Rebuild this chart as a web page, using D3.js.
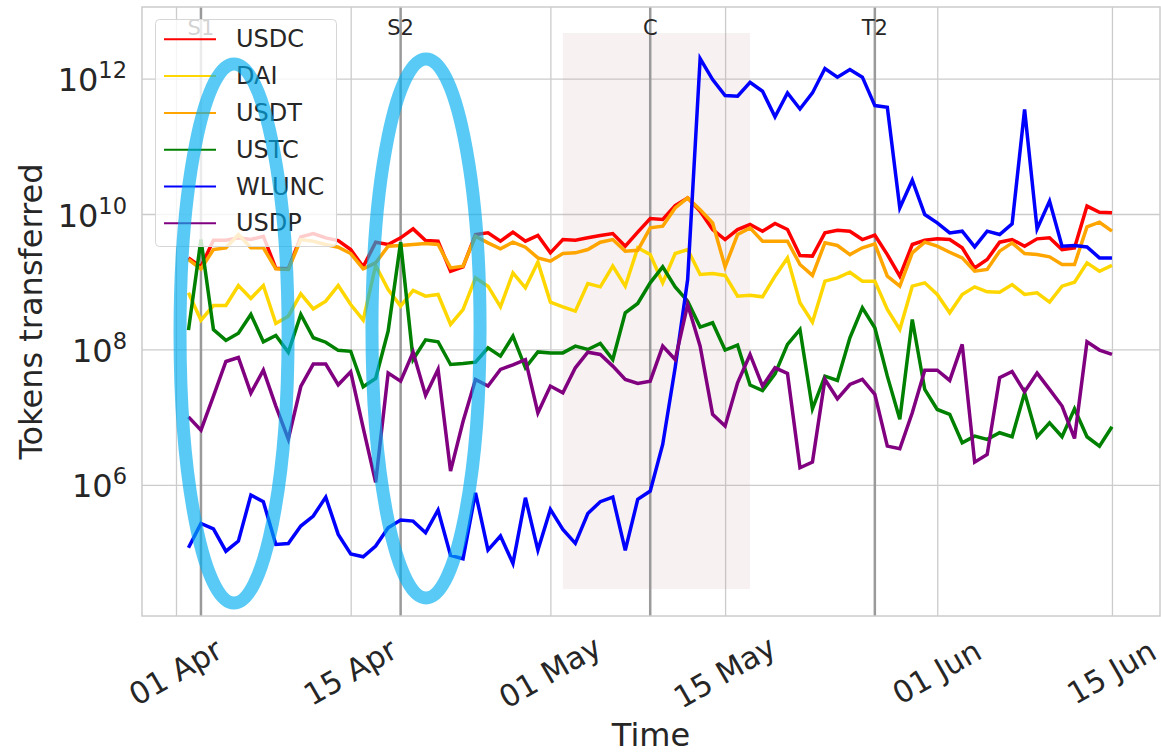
<!DOCTYPE html>
<html lang="en">
<head>
<meta charset="utf-8">
<title>Tokens transferred</title>
<script src="https://d3js.org/d3.v7.min.js"></script>
<style>
  body { margin: 0; background: #fff; }
  svg text { font-family: "DejaVu Sans", sans-serif; fill: #262626; }
</style>
</head>
<body>
<script>
// one value per day, 2 Apr - 15 Jun 2022
const firstDay = "2022-04-02";

const usdc = [2.25e9,1.66e9,4.1e9,4.1e9,4.45e9,4.2e9,4.7e9,1.58e9,1.55e9,4.6e9,
  5.15e9,4.45e9,4.06e9,2.99e9,1.66e9,3.84e9,3.55e9,4.45e9,6.04e9,4.06e9,
  3.97e9,1.43e9,1.66e9,4.98e9,5.27e9,3.97e9,5.4e9,3.97e9,4.82e9,2.67e9,
  4.2e9,4.1e9,4.45e9,4.82e9,5.15e9,3.35e9,5.4e9,8.6e9,8.3e9,1.33e10,
  1.73e10,1.1e10,5.9e9,4.2e9,5.9e9,7.0e9,5.58e9,7.24e9,5.9e9,2.44e9,
  2.39e9,5.27e9,5.77e9,5.58e9,4.2e9,4.87e9,2.52e9,1.21e9,3.55e9,4.1e9,
  4.3e9,4.2e9,3.17e9,1.6e9,2.13e9,3.84e9,4.2e9,3.35e9,4.3e9,4.45e9,
  2.99e9,3.17e9,1.31e10,1.06e10,1.04e10];

const dai = [6.86e8,2.71e8,4.46e8,4.46e8,8.81e8,5.66e8,8.81e8,2.42e8,3.1e8,6.63e8,
  3.98e8,5.17e8,8.81e8,4.61e8,2.71e8,1.74e9,7.69e8,4.36e8,7.43e8,6.12e8,
  6.49e8,2.34e8,3.89e8,1.14e9,8.6e8,4.26e8,1.35e9,8.13e8,1.95e9,5.0e8,
  4.26e8,3.68e8,9.42e8,8.41e8,1.7e9,8.6e8,3.17e9,2.52e9,9.64e8,2.61e9,
  2.99e9,1.28e9,1.32e9,1.24e9,6.12e8,6.34e8,5.99e8,1.21e9,2.25e9,4.89e8,
  2.53e8,1.02e9,1.14e9,1.38e9,1.02e9,1.02e9,3.89e8,1.97e8,8.6e8,9.64e8,
  6.49e8,3.48e8,6.49e8,8.41e8,7.1e8,7.0e8,9.1e8,6.49e8,6.86e8,5.0e8,
  8.6e8,9.86e8,1.9e9,1.43e9,1.74e9];

const usdt = [2.13e9,1.55e9,2.99e9,3.17e9,4.98e9,3.17e9,3.17e9,1.55e9,1.52e9,4.2e9,
  3.97e9,3.55e9,3.24e9,2.61e9,1.55e9,1.9e9,3.35e9,3.43e9,3.55e9,3.67e9,
  3.55e9,1.6e9,1.7e9,4.7e9,3.75e9,3.06e9,3.84e9,3.24e9,2.25e9,2.01e9,
  2.61e9,2.67e9,2.99e9,3.84e9,4.2e9,2.83e9,2.92e9,6.25e9,6.61e9,1.23e10,
  1.73e10,1.16e10,7.41e9,1.66e9,4.98e9,6.25e9,3.97e9,3.97e9,3.97e9,1.8e9,
  1.24e9,3.75e9,3.43e9,2.52e9,3.17e9,3.63e9,1.21e9,8.6e8,2.67e9,3.84e9,
  3.35e9,2.73e9,2.25e9,1.43e9,1.52e9,2.83e9,3.75e9,2.61e9,2.52e9,2.33e9,
  1.8e9,1.8e9,6.47e9,7.57e9,5.58e9];

const ustc = [1.93e8,4.2e9,1.97e8,1.36e8,1.74e8,3.29e8,1.3e8,1.61e8,9.1e7,3.29e8,
  1.49e8,1.28e8,9.7e7,9.4e7,2.81e7,3.73e7,1.87e8,3.84e9,7.1e7,1.39e8,
  1.3e8,6.0e7,6.21e7,6.5e7,1.06e8,7.98e7,1.57e8,5.36e7,9.2e7,8.9e7,
  8.9e7,1.12e8,1.0e8,1.23e8,7.1e7,3.48e8,4.77e8,9.64e8,1.66e9,8.41e8,
  5.17e8,2.14e8,2.48e8,9.8e7,1.16e8,2.98e7,2.48e7,4.37e7,1.19e8,1.97e8,
  1.33e7,4.04e7,3.49e7,1.49e8,4.12e8,2.09e8,4.04e7,9.3e6,2.77e8,2.57e7,
  1.3e7,1.1e7,4.19e6,5.26e6,4.7e6,5.89e6,5.14e6,2.29e7,5.14e6,8.27e6,
  5.14e6,1.33e7,5.14e6,3.74e6,7.22e6];

const wlunc = [1.18e5,2.7e5,2.25e5,1.05e5,1.48e5,7.08e5,5.65e5,1.32e5,1.36e5,2.47e5,
  3.47e5,6.61e5,1.86e5,9.6e4,8.7e4,1.25e5,2.33e5,3.03e5,2.92e5,1.97e5,
  4.26e5,9.1e4,8.13e4,7.66e5,1.09e5,1.76e5,6.93e4,6.47e5,1.09e5,4.35e5,
  2.2e5,1.37e5,3.79e5,5.65e5,6.61e5,1.08e5,6.11e5,8.11e5,3.96e6,5.42e7,
  1.08e9,1.97e12,9.66e11,5.61e11,5.48e11,8.83e11,6.5e11,2.72e11,6.14e11,3.56e11,
  6.14e11,1.41e12,1.05e12,1.36e12,1.05e12,3.99e11,3.78e11,1.23e10,3.16e10,9.84e9,
  7.41e9,5.27e9,5.58e9,3.27e9,5.58e9,4.98e9,7.16e9,3.49e11,6.04e9,1.55e10,
  3.35e9,3.43e9,3.27e9,2.25e9,2.25e9];

const usdp = [1.01e7,6.44e6,2.05e7,6.65e7,7.62e7,2.27e7,4.95e7,1.46e7,4.75e6,2.84e7,
  6.08e7,6.08e7,3.01e7,4.68e7,6.98e6,1.09e6,4.48e7,3.41e7,9.1e7,2.1e7,
  5.07e7,1.6e6,8.65e6,3.61e7,2.88e7,5.07e7,5.94e7,7.1e7,1.16e7,2.88e7,
  2.29e7,5.36e7,9.1e7,8.44e7,5.68e7,3.61e7,3.15e7,3.41e7,1.12e8,7.1e7,
  4.61e8,1.12e8,1.1e7,7.38e6,3.22e7,8.44e7,2.88e7,5.36e7,4.42e7,1.79e6,
  2.17e6,3.61e7,1.87e7,3.04e7,3.61e7,2.17e7,3.74e6,3.42e6,1.16e7,4.95e7,
  4.95e7,3.49e7,1.19e8,2.17e6,2.82e6,3.82e7,4.73e7,2.37e7,4.48e7,2.57e7,
  1.46e7,4.86e6,1.3e8,9.8e7,8.44e7];

const seriesNames = ["USDC", "DAI", "USDT", "USTC", "WLUNC", "USDP"];
const seriesColors = ["red", "gold", "orange", "green", "blue", "purple"];
const seriesValues = [usdc, dai, usdt, ustc, wlunc, usdp];

// event markers
const eventNames = ["S1", "S2", "C", "T2"];
const eventDates = ["2022-04-03", "2022-04-19", "2022-05-09", "2022-05-27"];

// shaded crash window
const shadeDates = ["2022-05-02", "2022-05-17"];
const shadeRange = [2.9e4, 4.7e12];

// highlight ellipses (centre date, centre level)
const ringDates = ["2022-04-05 15:40", "2022-04-21 00:50"];
const ringLevels = [1.72e8, 2.04e8];
const ringHalfDays = 4.33;
const ringHalfDecades = 3.98;

const xTicks = ["2022-04-01", "2022-04-15", "2022-05-01", "2022-05-15", "2022-06-01", "2022-06-15"];
const yTicks = [1e6, 1e8, 1e10, 1e12];

const w = 1161;
const h = 754;
const plotLeft = 142, plotRight = 1160, plotTop = 7, plotBottom = 616;

const parseDay = d3.utcParse("%Y-%m-%d");
const parseTime = d3.utcParse("%Y-%m-%d %H:%M");
const dayMs = 864e5;
const start = parseDay(firstDay);
const days = usdc.map((d, i) => new Date(+start + i * dayMs));

const x = d3.scaleUtc()
  .domain([new Date(Date.UTC(2022, 2, 29, 6, 37)), new Date(Date.UTC(2022, 5, 18, 20, 24))])
  .range([plotLeft, plotRight]);

const y = d3.scaleLog()
  .domain([1.16e4, 1.14e13])
  .range([plotBottom, plotTop]);

const svg = d3.select("body")
  .append("svg")
  .attr("width", w)
  .attr("height", h);

svg.append("rect").attr("width", w).attr("height", h).attr("fill", "white");

// grid + x labels
const xAxis = svg.append("g")
  .attr("transform", "translate(0," + plotBottom + ")")
  .call(d3.axisBottom(x)
    .tickValues(xTicks.map(parseDay))
    .tickSize(-(plotBottom - plotTop))
    .tickFormat(d3.utcFormat("%d %b")));
xAxis.attr("font-size", null).attr("font-family", null);
xAxis.select(".domain").remove();
xAxis.selectAll("line").attr("stroke", "#cccccc").attr("stroke-width", 1.3);
xAxis.selectAll("text")
  .attr("y", 0)
  .attr("dy", "0.35em")
  .attr("transform", "translate(-1,56) rotate(-30)")
  .style("font-size", "30.5px");

const yAxis = svg.append("g")
  .attr("transform", "translate(" + plotLeft + ",0)")
  .call(d3.axisLeft(y)
    .tickValues(yTicks)
    .tickSize(-(plotRight - plotLeft))
    .tickFormat(""));
yAxis.select(".domain").remove();
yAxis.selectAll("line").attr("stroke", "#cccccc").attr("stroke-width", 1.3);

yTicks.forEach(v => {
  const t = svg.append("text")
    .attr("x", 127)
    .attr("y", y(v) + 12.5)
    .attr("text-anchor", "end")
    .style("font-size", "32px");
  t.append("tspan").text("10");
  t.append("tspan")
    .attr("dy", -13)
    .style("font-size", "22.5px")
    .text(Math.round(Math.log10(v)));
});

// shaded window
svg.append("rect")
  .attr("x", x(parseDay(shadeDates[0])))
  .attr("y", y(shadeRange[1]))
  .attr("width", x(parseDay(shadeDates[1])) - x(parseDay(shadeDates[0])))
  .attr("height", y(shadeRange[0]) - y(shadeRange[1]))
  .attr("fill", "#bc8f8f")
  .attr("fill-opacity", 0.12);

// event lines
eventDates.forEach((d, i) => {
  const ex = x(parseDay(d));
  svg.append("line")
    .attr("x1", ex).attr("x2", ex)
    .attr("y1", plotTop).attr("y2", plotBottom)
    .attr("stroke", "#9a9a9a")
    .attr("stroke-width", 2.5);
  svg.append("text")
    .attr("x", ex)
    .attr("y", 35)
    .attr("text-anchor", "middle")
    .style("font-size", "21px")
    .text(eventNames[i]);
});

// series
const line = d3.line()
  .x((d, i) => x(days[i]))
  .y(d => y(d));

seriesValues.forEach((vals, k) => {
  svg.append("path")
    .datum(vals)
    .attr("fill", "none")
    .attr("stroke", seriesColors[k])
    .attr("stroke-width", 3.5)
    .attr("stroke-linejoin", "miter")
    .attr("d", line);
});

// frame
svg.append("rect")
  .attr("x", plotLeft).attr("y", plotTop)
  .attr("width", plotRight - plotLeft).attr("height", plotBottom - plotTop)
  .attr("fill", "none")
  .attr("stroke", "#cccccc")
  .attr("stroke-width", 1.5);

// legend
const legend = svg.append("g");
legend.append("rect")
  .attr("x", 155.5).attr("y", 19.5)
  .attr("width", 181).attr("height", 227)
  .attr("rx", 4)
  .attr("fill", "white")
  .attr("fill-opacity", 0.8)
  .attr("stroke", "#d6d6d6");

seriesNames.forEach((name, k) => {
  const ly = 39.3 + k * 36.8;
  legend.append("line")
    .attr("x1", 164).attr("x2", 216)
    .attr("y1", ly).attr("y2", ly)
    .attr("stroke", seriesColors[k])
    .attr("stroke-width", 2);
  legend.append("text")
    .attr("x", 236)
    .attr("y", ly)
    .attr("dominant-baseline", "central")
    .style("font-size", "24px")
    .text(name);
});

// ellipses
ringDates.forEach((d, i) => {
  const c = parseTime(d);
  const cx = x(c);
  const rx = x(new Date(+c + ringHalfDays * dayMs)) - cx;
  const lv = Math.log10(ringLevels[i]);
  const yTop = y(Math.pow(10, lv + ringHalfDecades));
  const yBot = y(Math.pow(10, lv - ringHalfDecades));
  svg.append("ellipse")
    .attr("cx", cx)
    .attr("cy", (yTop + yBot) / 2)
    .attr("rx", rx)
    .attr("ry", (yBot - yTop) / 2)
    .attr("fill", "none")
    .attr("stroke", "#00aeef")
    .attr("stroke-opacity", 0.65)
    .attr("stroke-width", 13);
});

// axis titles
svg.append("text")
  .attr("x", (plotLeft + plotRight) / 2)
  .attr("y", 746)
  .attr("text-anchor", "middle")
  .style("font-size", "32px")
  .text("Time");

svg.append("text")
  .attr("transform", "translate(42," + (plotTop + plotBottom) / 2 + ") rotate(-90)")
  .attr("text-anchor", "middle")
  .style("font-size", "32px")
  .text("Tokens transferred");
</script>
</body>
</html>
